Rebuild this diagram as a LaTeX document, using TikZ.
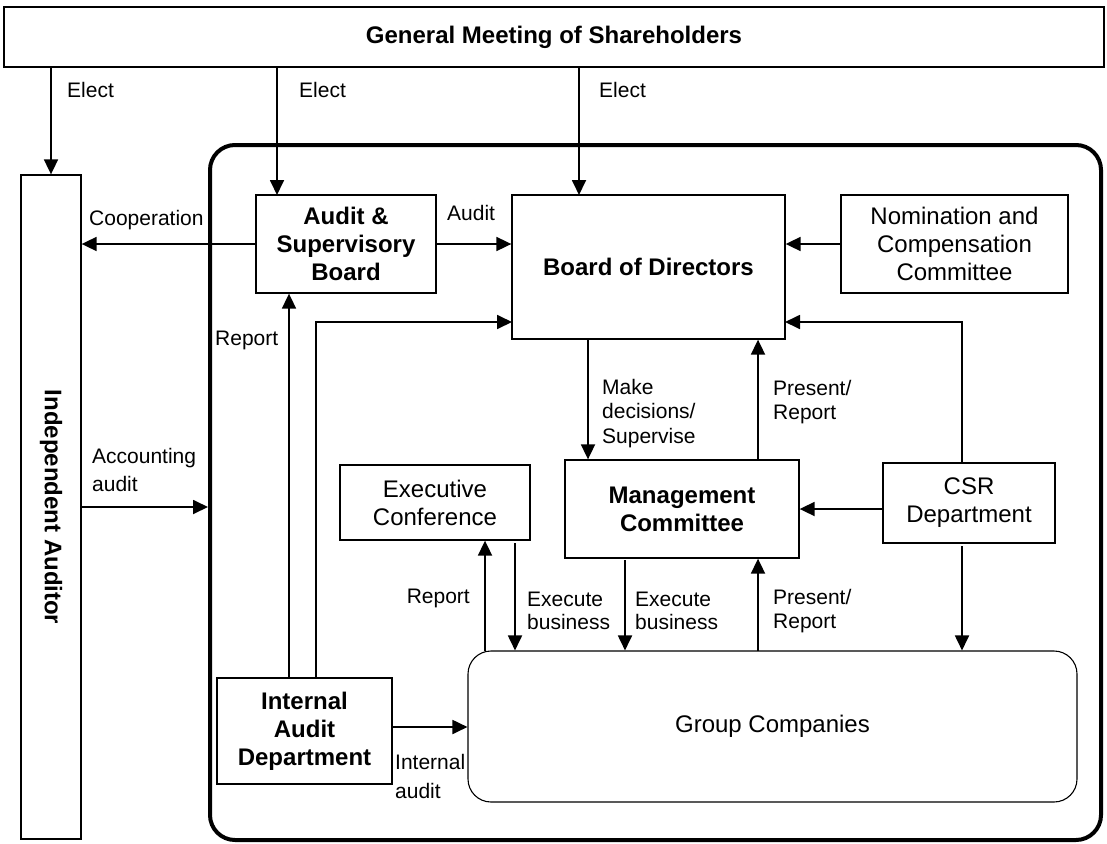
\documentclass[tikz,border=0pt]{standalone}
\usepackage{fontspec}
\setmainfont{Liberation Sans}
\usetikzlibrary{arrows.meta}
\begin{document}
\begin{tikzpicture}[x=1pt,y=-1pt,
  box/.style={draw, line width=1.3pt, rectangle, inner sep=0pt, align=center, font=\fontsize{24}{28}\selectfont},
  bbox/.style={box, font=\fontsize{24}{28}\selectfont\bfseries},
  arr/.style={line width=1.8pt, -{Triangle[length=15pt,width=14pt]}},
  lbl/.style={inner sep=0pt, anchor=west, align=left, font=\fontsize{21}{24}\selectfont},
]
\useasboundingbox (0,0) rectangle (1107,843);

% boxes
\node[bbox, minimum width=1100pt, minimum height=60pt] (gm) at (554,37) {General Meeting of Shareholders};
\node[bbox, minimum width=60pt, minimum height=664pt] (ind) at (51,507) {\rotatebox{-90}{Independent Auditor}};
\node[draw, line width=4pt, rounded corners=25pt, inner sep=0pt, minimum width=891pt, minimum height=695pt] (big) at (655.5,492.5) {};
\node[bbox, minimum width=180pt, minimum height=98pt] (aud) at (346,244) {Audit \&\\Supervisory\\Board};
\node[bbox, minimum width=273pt, minimum height=144pt] (bod) at (648.5,267) {Board of Directors};
\node[box, minimum width=227pt, minimum height=98pt] (nom) at (954.5,244) {Nomination and\\Compensation\\Committee};
\node[box, minimum width=190pt, minimum height=75pt] (exe) at (435,502.5) {Executive\\Conference};
\node[bbox, minimum width=234pt, minimum height=98pt] (mgt) at (682,509) {Management\\Committee};
\node[box, minimum width=172pt, minimum height=80pt] (csr) at (969,503) {CSR\\Department};
\node[bbox, minimum width=175pt, minimum height=106pt] (iad) at (304.5,731) {Internal\\Audit\\Department};
\node[box, line width=1.1pt, rounded corners=23pt, minimum width=609pt, minimum height=151pt] (grp) at (772.5,726.5) {Group Companies};

% connector end points
\coordinate (a2) at (277,195);
\coordinate (b3) at (579,195);
\coordinate (r1) at (289,678);
\coordinate (r2) at (316,678);
\coordinate (bl) at (512,322);
\coordinate (c1) at (962,463);
\coordinate (br) at (785,322);
\coordinate (d1) at (588,339);
\coordinate (d2) at (758,460);
\coordinate (cm) at (883,509);
\coordinate (m1) at (625,560);
\coordinate (g1) at (758,651);
\coordinate (c2) at (962,546);
\coordinate (g2) at (485,651);
\coordinate (e1) at (515,543);
\coordinate (ia) at (392,727);

% connectors
\draw[arr] (gm.south -| ind.north) -- (ind.north);
\draw[arr] (gm.south -| a2) -- (a2);
\draw[arr] (gm.south -| b3) -- (b3);
\draw[arr] (aud.west) -- (aud.west -| ind.east);
\draw[arr] (aud.east) -- (aud.east -| bod.west);
\draw[arr] (nom.west) -- (nom.west -| bod.east);
\draw[arr] (r1) -- (r1 |- aud.south);
\draw[arr] (r2) |- (bl);
\draw[arr] (c1) |- (br);
\draw[arr] (d1) -- (d1 |- mgt.north);
\draw[arr] (d2) -- (d2 |- bod.south);
\draw[arr] (cm) -- (cm -| mgt.east);
\draw[arr] (m1) -- (m1 |- grp.north);
\draw[arr] (g1) -- (g1 |- mgt.south);
\draw[arr] (c2) -- (c2 |- grp.north);
\draw[arr] (g2) -- (g2 |- exe.south);
\draw[arr] (e1) -- (e1 |- grp.north);
\draw[arr] (ia) -- (ia -| grp.west);
\draw[arr] (ind.east) -- (ind.east -| big.west);

% labels
\node[lbl] (l1) at (67,90) {Elect};
\node[lbl] (l2) at (299,90) {Elect};
\node[lbl] (l3) at (599,90) {Elect};
\node[lbl] (l4) at (89,220) {Cooperation};
\node[lbl] (l5) at (447,213) {Audit};
\node[lbl] (l6) at (215,340) {Report};
\node[lbl, font=\fontsize{21}{28}\selectfont] (l7) at (92,470) {Accounting\\audit};
\node[lbl, font=\fontsize{21}{24.5}\selectfont] (l8) at (602,413.5) {Make\\decisions/\\Supervise};
\node[lbl] (l9) at (773,402) {Present/\\Report};
\node[lbl, anchor=east] (l10) at (470,598) {Report};
\node[lbl, font=\fontsize{21}{22.5}\selectfont] (l11) at (527,611) {Execute\\business};
\node[lbl, font=\fontsize{21}{22.5}\selectfont] (l12) at (635,611) {Execute\\business};
\node[lbl] (l13) at (773,611) {Present/\\Report};
\node[lbl, font=\fontsize{21}{29}\selectfont] (l14) at (395,776.5) {Internal\\audit};
\end{tikzpicture}
\end{document}
